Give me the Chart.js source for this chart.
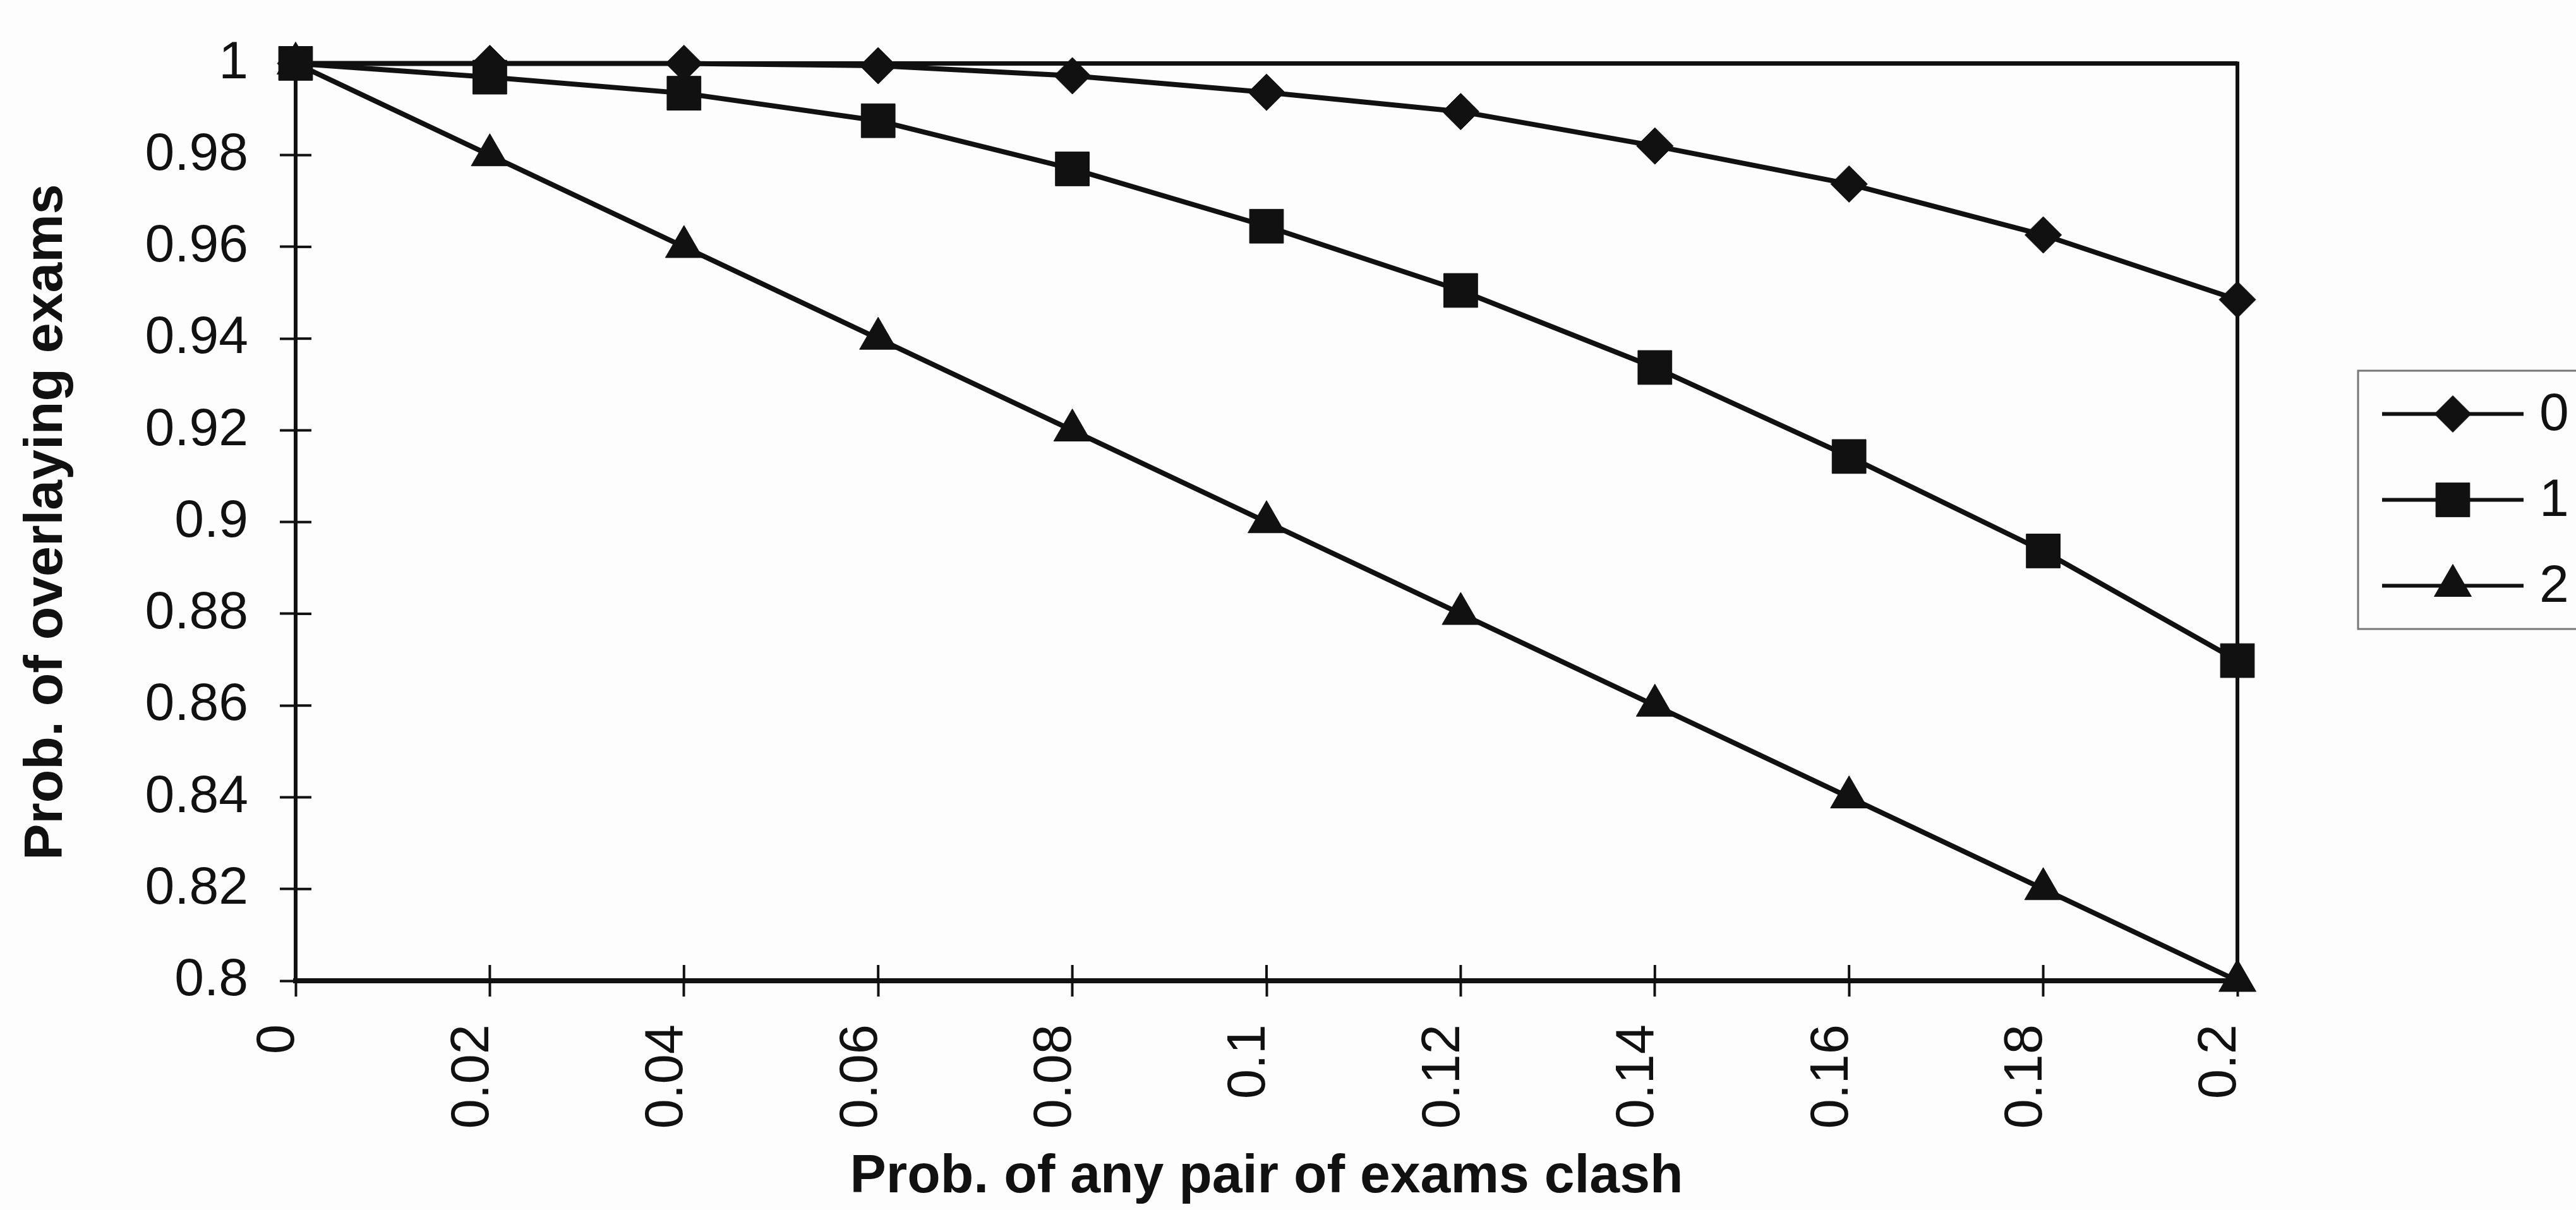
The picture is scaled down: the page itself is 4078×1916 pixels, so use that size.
<!DOCTYPE html>
<html>
<head>
<meta charset="utf-8">
<title>Prob. of overlaying exams</title>
<script src="https://cdn.jsdelivr.net/npm/chart.js@4/dist/chart.umd.min.js"></script>
<style>
  html, body { margin: 0; padding: 0; background: #fdfdfd; }
  canvas { display: block; }
</style>
</head>
<body>
<canvas id="chart" width="4078" height="1916"></canvas>
<script>
// x categories: probability that any pair of exams clash
const clashProb = ['0', '0.02', '0.04', '0.06', '0.08', '0.1', '0.12', '0.14', '0.16', '0.18', '0.2'];

// y axis tick values
const yTicks = [0.8, 0.82, 0.84, 0.86, 0.88, 0.9, 0.92, 0.94, 0.96, 0.98, 1];

// series names
const seriesNames = ['0', '1', '2'];

// probability of overlaying exams, one list per series
const series0 = [1, 1, 1, 0.9995, 0.9973, 0.9937, 0.9895, 0.982, 0.9737, 0.9626, 0.9485];
const series1 = [1, 0.997, 0.9935, 0.9875, 0.977, 0.9645, 0.9505, 0.9337, 0.9143, 0.8937, 0.8698];
const series2 = [1, 0.98, 0.96, 0.94, 0.92, 0.9, 0.88, 0.86, 0.84, 0.82, 0.8];

const FONT = "'Liberation Sans', Arial, Helvetica, sans-serif";
const INK = '#111111';

const markerStyles = [
  { pointStyle: 'rectRot', radius: 29 },
  { pointStyle: 'rect', radius: 38 },
  { pointStyle: 'triangle', radius: 34 }
];

function makeDataset(i, values) {
  return {
    label: seriesNames[i],
    data: values,
    borderColor: INK,
    backgroundColor: INK,
    borderWidth: 8,
    tension: 0,
    pointStyle: markerStyles[i].pointStyle,
    pointRadius: markerStyles[i].radius,
    pointBorderWidth: 1,
    pointBackgroundColor: INK,
    pointBorderColor: INK,
    clip: false
  };
}

// page background
const backgroundPlugin = {
  id: 'pageBackground',
  beforeDraw(chart) {
    const ctx = chart.ctx;
    ctx.save();
    ctx.fillStyle = '#fdfdfd';
    ctx.fillRect(0, 0, chart.width, chart.height);
    ctx.restore();
  }
};

// plot frame (top and right sides) and tick marks crossing into the plot
const framePlugin = {
  id: 'plotFrame',
  beforeDatasetsDraw(chart) {
    const { ctx, chartArea: a, scales } = chart;
    ctx.save();
    ctx.strokeStyle = INK;
    ctx.lineCap = 'butt';
    ctx.lineWidth = 7;
    ctx.beginPath();
    ctx.moveTo(a.left - 3, a.top);
    ctx.lineTo(a.right, a.top);
    ctx.stroke();
    ctx.lineWidth = 6;
    ctx.beginPath();
    ctx.moveTo(a.right, a.top - 3);
    ctx.lineTo(a.right, a.bottom + 3);
    ctx.stroke();

    ctx.lineWidth = 4;
    const inner = 25;
    scales.y.ticks.forEach((t, i) => {
      const y = scales.y.getPixelForTick(i);
      ctx.beginPath();
      ctx.moveTo(a.left, y);
      ctx.lineTo(a.left + inner, y);
      ctx.stroke();
    });
    scales.x.ticks.forEach((t, i) => {
      const x = scales.x.getPixelForTick(i);
      ctx.beginPath();
      ctx.moveTo(x, a.bottom);
      ctx.lineTo(x, a.bottom - inner);
      ctx.stroke();
    });
    ctx.restore();
  }
};

// boxed legend with a line through each marker
const legendPlugin = {
  id: 'boxLegend',
  afterDraw(chart) {
    const ctx = chart.ctx;
    const box = { left: 3733, top: 587, right: 4200, bottom: 996 };
    ctx.save();
    ctx.strokeStyle = '#777777';
    ctx.lineWidth = 3;
    ctx.strokeRect(box.left, box.top, box.right - box.left, box.bottom - box.top);

    const rowH = 136;
    const firstY = (box.top + box.bottom) / 2 - rowH;
    const x0 = 3771, x1 = 3995, xm = 3883;
    chart.data.datasets.forEach((ds, i) => {
      const y = firstY + i * rowH;
      ctx.strokeStyle = INK;
      ctx.lineWidth = 6;
      ctx.beginPath();
      ctx.moveTo(x0, y);
      ctx.lineTo(x1, y);
      ctx.stroke();
      ctx.fillStyle = INK;
      ctx.strokeStyle = INK;
      ctx.lineWidth = 1;
      Chart.helpers.drawPoint(ctx, {
        pointStyle: ds.pointStyle,
        radius: ds.pointRadius,
        rotation: 0,
        borderWidth: 1
      }, xm, y);
      ctx.fillStyle = INK;
      ctx.font = '84px ' + FONT;
      ctx.textAlign = 'left';
      ctx.textBaseline = 'middle';
      ctx.fillText(ds.label, 4020, y + 2);
    });
    ctx.restore();
  }
};

new Chart(document.getElementById('chart'), {
  type: 'line',
  data: {
    labels: clashProb,
    datasets: [
      makeDataset(0, series0),
      makeDataset(1, series1),
      makeDataset(2, series2)
    ]
  },
  options: {
    responsive: false,
    animation: false,
    devicePixelRatio: 1,
    layout: { padding: { left: 0, right: 536, top: 86, bottom: 0 } },
    plugins: {
      legend: { display: false },
      tooltip: { enabled: false }
    },
    scales: {
      x: {
        type: 'category',
        offset: false,
        grid: {
          display: true,
          drawOnChartArea: false,
          drawTicks: true,
          tickLength: 25,
          tickWidth: 4,
          tickColor: INK,
          color: INK
        },
        border: { display: true, color: INK, width: 8 },
        ticks: {
          autoSkip: false,
          maxRotation: 90,
          minRotation: 90,
          padding: 44,
          labelOffset: -26,
          color: INK,
          font: { family: FONT, size: 85 }
        },
        title: {
          display: true,
          text: 'Prob. of any pair of exams clash',
          color: INK,
          font: { family: FONT, size: 86, weight: 'bold' },
          padding: { top: 0, bottom: 0 }
        },
        afterFit(scale) { scale.height = 363; }
      },
      y: {
        min: 0.8,
        max: 1,
        afterBuildTicks(scale) {
          scale.ticks = yTicks.map(v => ({ value: v }));
        },
        grid: {
          display: true,
          drawOnChartArea: false,
          drawTicks: true,
          tickLength: 25,
          tickWidth: 4,
          tickColor: INK,
          color: INK
        },
        border: { display: true, color: INK, width: 6 },
        ticks: {
          padding: 50,
          color: INK,
          font: { family: FONT, size: 84 },
          callback: v => String(Number(v.toFixed(2)))
        },
        title: {
          display: true,
          text: 'Prob. of overlaying exams',
          color: INK,
          font: { family: FONT, size: 86, weight: 'bold' },
          padding: { top: 23, bottom: 0 }
        },
        afterFit(scale) { scale.width = 468; }
      }
    }
  },
  plugins: [backgroundPlugin, framePlugin, legendPlugin]
});
</script>
</body>
</html>
